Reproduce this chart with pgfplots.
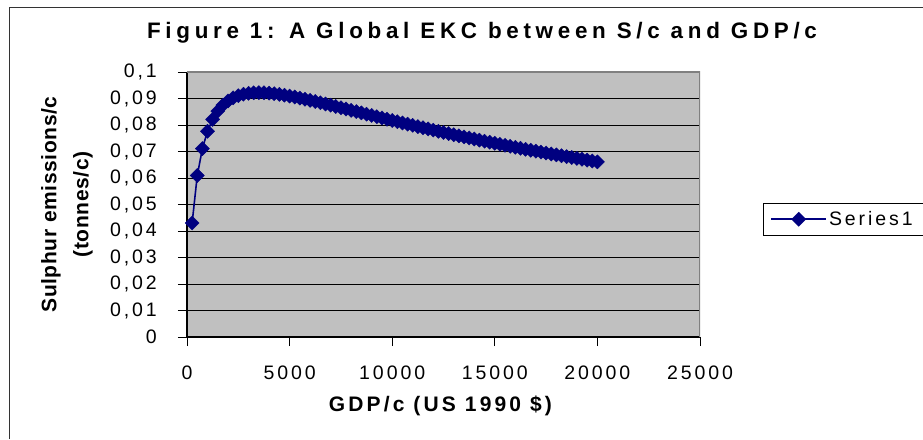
\documentclass[border=0pt]{standalone}
\usepackage{fontspec}
\setmainfont{Liberation Sans}[LetterSpace=15]
\newfontfamily\ylabfont{Liberation Sans}[LetterSpace=3]
\newfontfamily\titlefont{Liberation Sans}[LetterSpace=21]
\usepackage{pgfplots}
\usepackage{pgfplotstable}
\pgfplotsset{compat=1.18}
\definecolor{plotgray}{HTML}{C0C0C0}
\definecolor{navy}{HTML}{000080}
\definecolor{edgegray}{HTML}{808080}

% GDP per capita vs sulphur emissions per capita
\pgfplotstableread{
gdp s
250 0.04302
500 0.06092
750 0.07111
1000 0.07765
1250 0.08210
1500 0.08524
1750 0.08748
2000 0.08909
2250 0.09025
2500 0.09107
2750 0.09162
3000 0.09196
3250 0.09215
3500 0.09220
3750 0.09215
4000 0.09202
4250 0.09182
4500 0.09156
4750 0.09126
5000 0.09092
5250 0.09055
5500 0.09016
5750 0.08974
6000 0.08931
6250 0.08886
6500 0.08840
6750 0.08794
7000 0.08747
7250 0.08699
7500 0.08651
7750 0.08603
8000 0.08554
8250 0.08506
8500 0.08457
8750 0.08409
9000 0.08361
9250 0.08313
9500 0.08265
9750 0.08218
10000 0.08171
10250 0.08124
10500 0.08077
10750 0.08031
11000 0.07986
11250 0.07940
11500 0.07895
11750 0.07851
12000 0.07807
12250 0.07763
12500 0.07720
12750 0.07677
13000 0.07635
13250 0.07592
13500 0.07551
13750 0.07510
14000 0.07469
14250 0.07429
14500 0.07389
14750 0.07350
15000 0.07310
15250 0.07272
15500 0.07233
15750 0.07196
16000 0.07158
16250 0.07121
16500 0.07084
16750 0.07048
17000 0.07012
17250 0.06977
17500 0.06942
17750 0.06907
18000 0.06872
18250 0.06838
18500 0.06805
18750 0.06771
19000 0.06738
19250 0.06706
19500 0.06673
19750 0.06641
20000 0.06609
}\ekc

\begin{document}
\begin{tikzpicture}
\useasboundingbox (0,0) rectangle (923pt,439pt);
% chart frame (only left and top edges are inside the picture)
\draw[line width=1pt, black!80] (9pt,0pt) -- (9pt,431pt) -- (923pt,431pt);
\begin{axis}[
  at={(187pt,102pt)}, anchor=south west,
  scale only axis, width=513pt, height=265pt,
  xmin=0, xmax=25000, ymin=0, ymax=0.1,
  xtick={0,5000,10000,15000,20000,25000},
  ytick={0,0.01,0.02,0.03,0.04,0.05,0.06,0.07,0.08,0.09,0.1},
  scaled x ticks=false, scaled y ticks=false,
  axis lines*=left,
  axis line style={black, line width=1.2pt, -},
  axis background/.style={fill=plotgray},
  ymajorgrids,
  major grid style={black, line width=0.8pt},
  tick align=outside,
  major tick length=9pt,
  tick style={black, line width=0.8pt},
  /pgf/number format/assume math mode=true,
  x tick label style={/pgf/number format/1000 sep={}},
  y tick label style={/pgf/number format/use comma, /pgf/number format/fixed,
    /pgf/number format/precision=2},
  tick label style={font=\fontsize{19.5}{22}\selectfont},
  xticklabel style={anchor=north, inner sep=0pt, yshift=-20pt},
  yticklabel style={anchor=east, inner sep=0pt, xshift=-21pt},
  xlabel={GDP/c (US 1990 \$)},
  xlabel style={at={(axis description cs:0.494,-0.2819)}, anchor=base, inner sep=0pt,
    font=\fontsize{21}{24}\selectfont\bfseries},
  ylabel={Sulphur emissions/c\\(tonnes/c)},
  ylabel style={at={(axis description cs:-0.1832,0.5)}, anchor=south, inner sep=0pt,
    align=center, font=\fontsize{21}{32}\selectfont\bfseries\ylabfont},
  legend style={at={(axis description cs:1.1228,0.5057)}, anchor=north west,
    draw=black, line width=0.8pt, fill=white,
    font=\fontsize{19.5}{22}\selectfont, inner xsep=7pt, inner ysep=6pt},
  legend image code/.code={
    \draw[mark repeat=2, mark phase=2] plot coordinates {(0pt,0pt) (27.5pt,0pt) (55pt,0pt)};},
]
\addplot[navy, line width=1.6pt, mark=square*, mark size=5pt,
  mark options={rotate=45, fill=navy, draw=navy, line width=0.4pt}]
  table[x=gdp, y=s] {\ekc};
\legend{Series1\hspace*{6pt}}
\draw[edgegray, line width=1.5pt] (rel axis cs:0,1) -- (rel axis cs:1,1) -- (rel axis cs:1,0);
\end{axis}
\node[anchor=base, inner sep=0pt, font=\fontsize{22.4}{25}\selectfont\bfseries\titlefont]
  at (482pt,400.7pt) {Figure 1: A Global EKC between S/c and GDP/c};
\end{tikzpicture}
\end{document}
